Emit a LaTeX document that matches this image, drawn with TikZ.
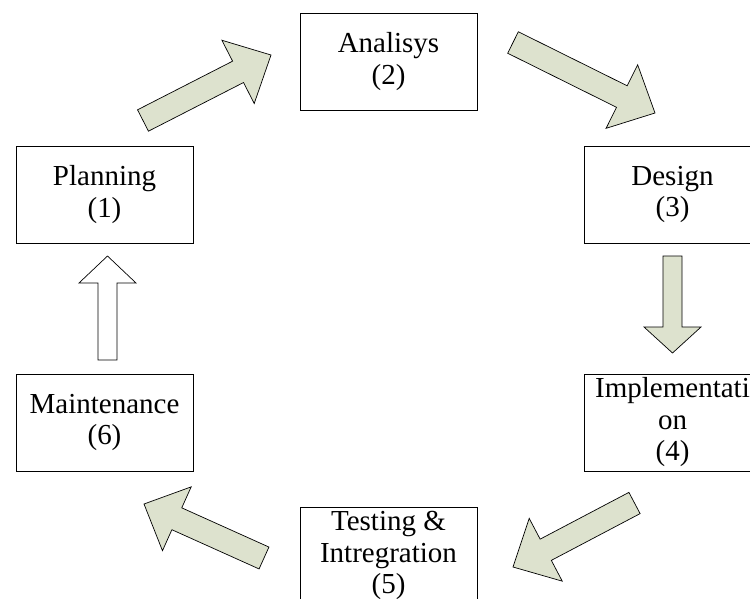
\documentclass[tikz,border=0pt]{standalone}
\usepackage{fontspec}
\setmainfont{Liberation Serif}
\usepackage{xcolor}
\usepackage{tikz}
\usetikzlibrary{calc}

\definecolor{arrowfill}{RGB}{221,226,206}

% block arrow from tail coordinate to tip coordinate
% #2 tail, #3 tip, #4 shaft half width, #5 head half width, #6 head length
\newcommand{\blockarrow}[6][]{%
    \path ($(#3)!#6!(#2)$) coordinate (hb);
    \draw[flowarrow, #1] ($(#2)!#4!90:(#3)$) -- ($(hb)!#4!90:(#3)$)
        -- ($(hb)!#5!90:(#3)$) -- (#3) -- ($(hb)!#5!-90:(#3)$)
        -- ($(hb)!#4!-90:(#3)$) -- ($(#2)!#4!-90:(#3)$) -- cycle;
}

\begin{document}
\begin{tikzpicture}[
    x=1pt, y=-1pt,
    stage/.style={draw, line width=0.8pt, fill=white, minimum width=177pt, minimum height=97pt,
        inner sep=0pt, align=center, font=\fontsize{29}{31.5}\selectfont},
    flowarrow/.style={draw, line width=0.7pt, fill=arrowfill, line join=miter}
]
    \useasboundingbox (0,0) rectangle (750,599);
    \clip (0,0) rectangle (750,599);

    % Stages of the cycle
    \node[stage] (plan) at (104.5,194.5) {Planning\\(1)};
    \node[stage] (analysis) at (388.5,61.5) {Analisys\\(2)};
    \node[stage] (design) at (672.5,194.5) {Design\\(3)};
    \node[stage] (impl) at (672.5,422.5) {Implementati\\on\\(4)};
    \node[stage] (test) at (388.5,555.5) {Testing \&\\Intregration\\(5)};
    \node[stage] (maint) at (104.5,422.5) {Maintenance\\(6)};

    % Arrow ends
    \coordinate (a1t) at (143,120.5);   \coordinate (a1h) at (271,55);
    \coordinate (a2t) at (513,42.5);    \coordinate (a2h) at (655,113);
    \coordinate (a3t) at (672.5,256);   \coordinate (a3h) at (672.5,353);
    \coordinate (a4t) at (634.5,503);   \coordinate (a4h) at (513,567);
    \coordinate (a5t) at (264,558);     \coordinate (a5h) at (144,504);
    \coordinate (a6t) at (107.5,360);   \coordinate (a6h) at (107.5,256);

    % Arrows
    \blockarrow{a1t}{a1h}{12pt}{35.5pt}{37pt}
    \blockarrow{a2t}{a2h}{12pt}{35.5pt}{37pt}
    \blockarrow{a3t}{a3h}{9.5pt}{28.5pt}{26pt}
    \blockarrow{a4t}{a4h}{12pt}{35.5pt}{37pt}
    \blockarrow{a5t}{a5h}{12pt}{35pt}{36pt}
    \blockarrow[fill=white]{a6t}{a6h}{9.5pt}{28.5pt}{27pt}
\end{tikzpicture}
\end{document}
